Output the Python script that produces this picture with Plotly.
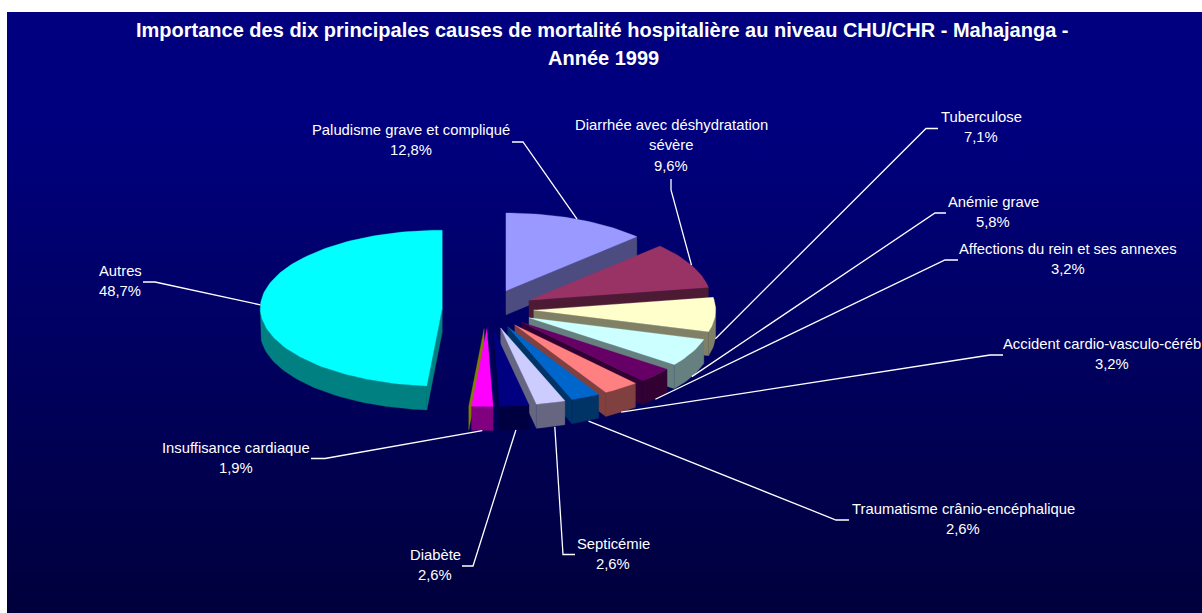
import math
import plotly.graph_objects as go

# ---- data ----
categories = [
    "Paludisme grave et compliqué",
    "Diarrhée avec déshydratation\nsévère",
    "Tuberculose",
    "Anémie grave",
    "Affections du rein et ses annexes",
    "Accident cardio-vasculo-céréb",
    "Traumatisme crânio-encéphalique",
    "Septicémie",
    "Diabète",
    "Insuffisance cardiaque",
    "",
    "Autres",
]
values = [12.8, 9.6, 7.1, 5.8, 3.2, 3.2, 2.6, 2.6, 2.6, 1.9, 0.0, 48.7]
top_colors = [(0x99, 0x99, 0xFF), (0x99, 0x33, 0x66), (0xFF, 0xFF, 0xCC), (0xCC, 0xFF, 0xFF),
              (0x66, 0x00, 0x66), (0xFF, 0x80, 0x80), (0x00, 0x66, 0xCC), (0xCC, 0xCC, 0xFF),
              (0x00, 0x00, 0x80), (0xFF, 0x00, 0xFF), (0xFF, 0xFF, 0x00), (0x00, 0xFF, 0xFF)]
title_lines = ["Importance des dix principales causes de mortalité hospitalière au niveau CHU/CHR - Mahajanga -",
               "Année 1999"]

# ---- layout / styling ----
W, H = 1202, 613
CX, CY = 488.0, 309.0
RX, RY = 182.0, 78.0
EXPLODE = 45.8
DEPTH = 24.0
FONT = "Liberation Sans"
# label centre x, y of first text line
label_pos = [(411, 130), (671, 125), (981, 117), (993, 202), (1068, 249), (1102, 344),
             (963, 509), (613, 544), (435, 555), (236, 448), None, (120, 271)]
pct_x_override = {5: 1112}
# leader line: start beside the label, elbow
leader = [((512, 142), (523, 142)), ((671, 179), (671, 190)), ((938, 128.5), (926, 128.5)),
          ((946, 213), (935, 213)), ((958, 260), (945, 260)), ((1003, 355), (990, 355)),
          ((849, 520), (836, 520)), ((575, 554.5), (563, 554.5)), ((462, 566), (473, 566)),
          ((311, 458.5), (325, 458.5)), None, ((143, 282), (155, 282))]
# small horizontal nudge of the leader's end on the slice
leader_end_dx = {6: 3, 7: 4, 8: 1.5}
LINE_STEP = 20.3

fig = go.Figure()

# background panel
fig.add_trace(go.Scatter(
    x=[7, W, W, 7, 7], y=[12, 12, H, H, 12], mode="lines", line=dict(width=0),
    fill="toself", hoverinfo="skip", showlegend=False,
    fillgradient=dict(type="vertical",
                      colorscale=[[0, "#00003C"], [0.804, "#00007E"], [1, "#000080"]]),
))


def rgb(c, k=1.0):
    return "rgb(%d,%d,%d)" % tuple(round(v * k) for v in c)


def poly(xs, ys, color):
    fig.add_trace(go.Scatter(x=xs + xs[:1], y=ys + ys[:1], mode="lines", line=dict(width=0.3, color=color),
                             fill="toself", fillcolor=color, hoverinfo="skip", showlegend=False))


def pt(ax, ay, deg):
    a = math.radians(deg)
    return ax + RX * math.sin(a), ay - RY * math.cos(a)


total = sum(values)
slices = []
cum = 0.0
for i, v in enumerate(values):
    a0 = cum / total * 360
    cum += v
    a1 = cum / total * 360
    mid = (a0 + a1) / 2
    m = math.radians(mid)
    ax = CX + EXPLODE * math.sin(m)
    ay = CY - EXPLODE * math.cos(m) * RY / RX
    slices.append(dict(i=i, a0=a0, a1=a1, mid=mid, ax=ax, ay=ay))


def arc(s, a0, a1):
    n = max(2, int(abs(a1 - a0) / 1.5) + 2)
    return [pt(s["ax"], s["ay"], a0 + (a1 - a0) * k / (n - 1)) for k in range(n)]


for s in sorted(slices, key=lambda q: min(q["mid"], 360 - q["mid"])):
    col = top_colors[s["i"]]
    side = rgb(col, 0.5)
    ax, ay, a0, a1 = s["ax"], s["ay"], s["a0"], s["a1"]
    # cut faces turned towards the viewer
    for ang, visible in ((a0, math.sin(math.radians(a0)) < 0), (a1, math.sin(math.radians(a1)) > 0)):
        if visible:
            x, y = pt(ax, ay, ang)
            poly([ax, x, x, ax], [ay, y, y + DEPTH, ay + DEPTH], side)
    # outer wall
    lo, hi = max(a0, 90), min(a1, 270)
    if hi > lo:
        pts = arc(s, lo, hi)
        poly([p[0] for p in pts] + [p[0] for p in reversed(pts)],
             [p[1] for p in pts] + [p[1] + DEPTH for p in reversed(pts)], side)
    # top face
    if a1 > a0:
        pts = arc(s, a0, a1)
        poly([ax] + [p[0] for p in pts], [ay] + [p[1] for p in pts], rgb(col))

annotations = []


def text(x, y, t, size=14.8, bold=False):
    annotations.append(dict(x=x, y=y, xref="x", yref="y", text=("<b>%s</b>" % t) if bold else t,
                            showarrow=False, xanchor="center", yanchor="middle",
                            font=dict(family=FONT, size=size, color="white")))


# leader lines and labels
for s in slices:
    i = s["i"]
    if label_pos[i] is None:
        continue
    x, y = pt(s["ax"], s["ay"], s["mid"])
    x += leader_end_dx.get(i, 0)
    if 90 < s["mid"] < 270:
        y += DEPTH
    (x0, y0), (x1, y1) = leader[i]
    fig.add_trace(go.Scatter(x=[x0, x1, x], y=[y0, y1, y], mode="lines",
                             line=dict(color="white", width=1.3), hoverinfo="skip", showlegend=False))
    lx, ly = label_pos[i]
    lines = categories[i].split("\n")
    for k, t in enumerate(lines):
        text(lx, ly + k * LINE_STEP, t)
    text(pct_x_override.get(i, lx), ly + len(lines) * LINE_STEP, ("%.1f%%" % values[i]).replace(".", ","))

text(602, 30, title_lines[0], size=20, bold=True)
text(603, 58, title_lines[1], size=20, bold=True)

fig.update_layout(
    width=W, height=H, margin=dict(l=0, r=0, t=0, b=0), autosize=False,
    paper_bgcolor="white", plot_bgcolor="white", showlegend=False,
    xaxis=dict(range=[0, W], visible=False, fixedrange=True),
    yaxis=dict(range=[H, 0], visible=False, fixedrange=True),
    annotations=annotations,
)
fig.write_html("out.html", config={"displayModeBar": False},
               post_script="document.body.style.margin='0';document.body.style.overflow='hidden';")
